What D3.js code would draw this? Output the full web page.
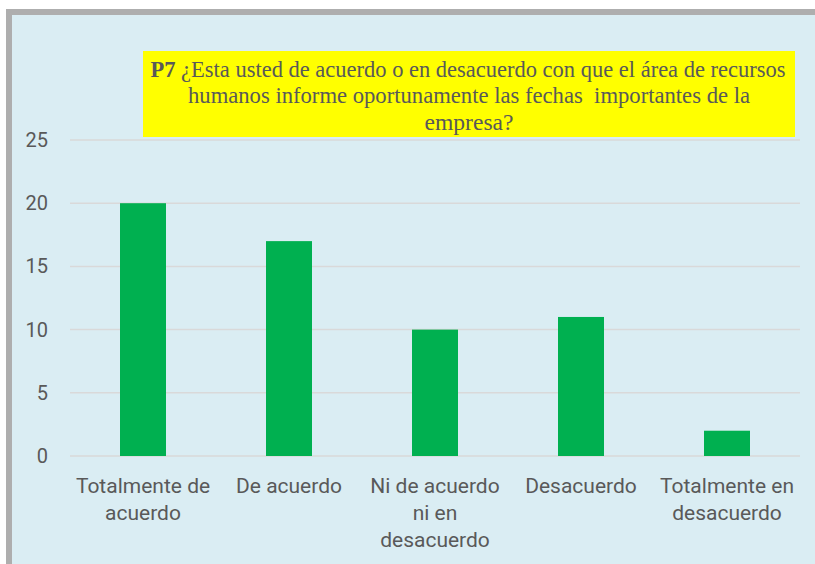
<!DOCTYPE html>
<html>
<head>
<meta charset="utf-8">
<script src="https://cdn.jsdelivr.net/npm/d3@7"></script>
<style>
  body { margin: 0; background: #fff; }
  svg { display: block; }
</style>
</head>
<body>
<svg id="chart" width="815" height="564"></svg>
<script>
// datos
const categories = [
  ["Totalmente de", "acuerdo"],
  ["De acuerdo"],
  ["Ni de acuerdo", "ni en", "desacuerdo"],
  ["Desacuerdo"],
  ["Totalmente en", "desacuerdo"]
];
const counts = [20, 17, 10, 11, 2];
const yTicks = [0, 5, 10, 15, 20, 25];
const titleLines = [
  "¿Esta usted de acuerdo o en desacuerdo con que el área de recursos",
  "humanos informe oportunamente las fechas  importantes de la",
  "empresa?"
];

const svg = d3.select("#chart");

// fondo y borde del area del grafico
svg.append("rect")
  .attr("x", 9).attr("y", 12)
  .attr("width", 830).attr("height", 580)
  .attr("fill", "#DAEDF3")
  .attr("stroke", "#AEAEAE")
  .attr("stroke-width", 6);

const plotLeft = 70, plotRight = 800, plotTop = 140, plotBottom = 456;

const x = d3.scaleBand()
  .domain(d3.range(categories.length))
  .range([plotLeft, plotRight])
  .paddingInner(0.685)
  .paddingOuter(0.3425);

const y = d3.scaleLinear()
  .domain([0, 25])
  .range([plotBottom, plotTop]);

// lineas de cuadricula
svg.append("g")
  .selectAll("line")
  .data(yTicks)
  .join("line")
  .attr("x1", plotLeft).attr("x2", plotRight)
  .attr("y1", d => y(d)).attr("y2", d => y(d))
  .attr("stroke", "#D9D9D9")
  .attr("stroke-width", 1.5);

// etiquetas del eje y
svg.append("g")
  .selectAll("text")
  .data(yTicks)
  .join("text")
  .attr("x", 48)
  .attr("y", d => y(d) + 7)
  .attr("text-anchor", "end")
  .attr("font-family", "Roboto, sans-serif")
  .attr("font-size", 20)
  .attr("fill", "#595959")
  .text(d => d);

// barras
svg.append("g")
  .selectAll("rect")
  .data(counts)
  .join("rect")
  .attr("x", (d, i) => x(i))
  .attr("y", d => y(d))
  .attr("width", x.bandwidth())
  .attr("height", d => y(0) - y(d))
  .attr("fill", "#00B050");

// categorias
const cat = svg.append("g")
  .selectAll("text")
  .data(categories)
  .join("text")
  .attr("x", (d, i) => x(i) + x.bandwidth() / 2)
  .attr("y", 493)
  .attr("text-anchor", "middle")
  .attr("font-family", "Roboto, sans-serif")
  .attr("font-size", 21)
  .attr("fill", "#595959");

cat.selectAll("tspan")
  .data(d => d)
  .join("tspan")
  .attr("x", function () { return d3.select(this.parentNode).attr("x"); })
  .attr("dy", (d, i) => i === 0 ? 0 : 27)
  .text(d => d);

// titulo con fondo amarillo
svg.append("rect")
  .attr("x", 143).attr("y", 51)
  .attr("width", 652).attr("height", 86)
  .attr("fill", "#FFFF00");

const title = svg.append("g")
  .attr("font-family", "'Liberation Serif', 'Times New Roman', serif")
  .attr("font-size", 23)
  .attr("fill", "#595959");

// el titulo original es algo estrecho: se ajusta al ancho medido
const titleWidths = [635, 562, 89];

const t1 = title.append("text")
  .attr("x", 468).attr("y", 77)
  .attr("text-anchor", "middle")
  .attr("textLength", titleWidths[0])
  .attr("lengthAdjust", "spacingAndGlyphs");
t1.append("tspan").attr("font-weight", "bold").text("P7 ");
t1.append("tspan").text(titleLines[0]);

title.selectAll("text.rest")
  .data(titleLines.slice(1))
  .join("text")
  .attr("class", "rest")
  .attr("x", 469)
  .attr("y", (d, i) => 103 + i * 26.5)
  .attr("text-anchor", "middle")
  .attr("textLength", (d, i) => titleWidths[i + 1])
  .attr("lengthAdjust", "spacingAndGlyphs")
  .style("white-space", "pre")
  .text(d => d);
</script>
</body>
</html>
